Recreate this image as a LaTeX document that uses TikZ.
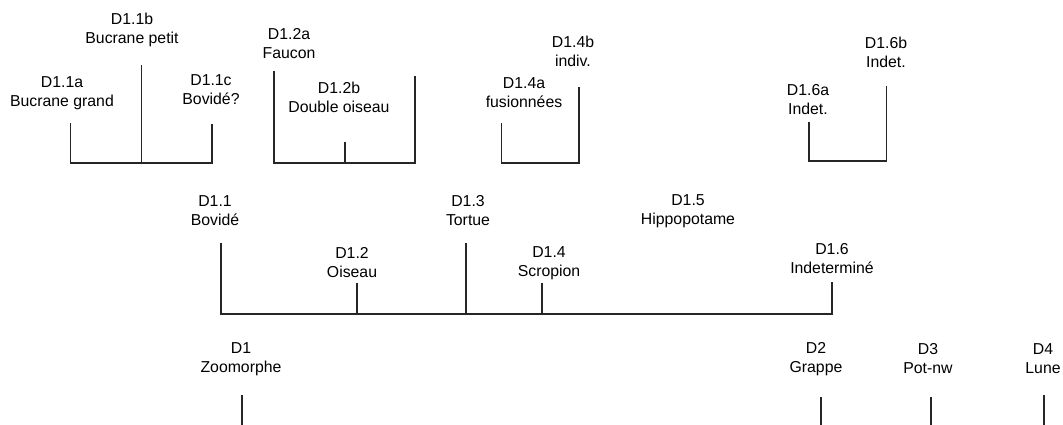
\documentclass[tikz,border=0pt]{standalone}
\usepackage{fontspec}
\setmainfont{Liberation Sans}
\usetikzlibrary{positioning}
\usetikzlibrary{calc}

\tikzset{lbl/.style={align=center, inner sep=0pt, font=\fontsize{9}{10.8}\selectfont},
  tree/.style={draw=black!85, line width=0.6pt}}

\begin{document}
\begin{tikzpicture}[x=0.02cm,y=-0.02cm]
\useasboundingbox (0,0) rectangle (1063,425);

\node[lbl] (d11a) at (62,93) {D1.1a\\Bucrane grand};
\node[lbl] (d11b) at (132,30) {D1.1b\\Bucrane petit};
\node[lbl] (d11c) at (211,90) {D1.1c\\Bovidé?};
\node[lbl] (d12a) at (289,44) {D1.2a\\Faucon};
\node[lbl] (d12b) at (339,97) {D1.2b\\Double oiseau};
\node[lbl] (d14a) at (524,93) {D1.4a\\fusionnées};
\node[lbl] (d14b) at (573,51) {D1.4b\\indiv.};
\node[lbl] (d16a) at (808,100) {D1.6a\\Indet.};
\node[lbl] (d16b) at (886,52) {D1.6b\\Indet.};

\node[lbl] (d11) at (215,211) {D1.1\\Bovidé};
\node[lbl] (d12) at (352,263) {D1.2\\Oiseau};
\node[lbl] (d13) at (468,211) {D1.3\\Tortue};
\node[lbl] (d14) at (549,263) {D1.4\\Scropion};
\node[lbl] (d15) at (688,211) {D1.5\\Hippopotame};
\node[lbl] (d16) at (832,259) {D1.6\\Indeterminé};

\node[lbl] (d1) at (241,359) {D1\\Zoomorphe};
\node[lbl] (d2) at (816,359) {D2\\Grappe};
\node[lbl] (d3) at (928,359) {D3\\Pot-nw};
\node[lbl] (d4) at (1043,359) {D4\\Lune};

\coordinate (p11a) at (70.7,123);
\coordinate (p11b) at (141.7,65);
\coordinate (p11c) at (212,124);
\coordinate (q11) at (0,163);
\draw[tree] (p11a) -- (p11a |- q11) -- (p11c |- q11) -- (p11c);
\draw[tree] (p11b) -- (p11b |- q11);

\coordinate (p12a) at (274,71);
\coordinate (p12m) at (345,142);
\coordinate (p12b) at (415,76);
\coordinate (q12) at (0,163);
\draw[tree] (p12a) -- (p12a |- q12) -- (p12b |- q12) -- (p12b);
\draw[tree] (p12m) -- (p12m |- q12);

\coordinate (p14a) at (501.7,123);
\coordinate (p14b) at (579,87);
\coordinate (q14) at (0,163);
\draw[tree] (p14a) -- (p14a |- q14) -- (p14b |- q14) -- (p14b);

\coordinate (p16a) at (809,122);
\coordinate (p16b) at (886.7,86);
\coordinate (q16) at (0,161);
\draw[tree] (p16a) -- (p16a |- q16) -- (p16b |- q16) -- (p16b);

\coordinate (p11) at (221,243);
\coordinate (p12) at (357,283);
\coordinate (p13) at (466,243);
\coordinate (p14) at (542,283);
\coordinate (p16) at (832,282);
\coordinate (q1) at (0,314);
\draw[tree] (p11) -- (p11 |- q1) -- (p16 |- q1) -- (p16);
\draw[tree] (p12) -- (p12 |- q1);
\draw[tree] (p13) -- (p13 |- q1);
\draw[tree] (p14) -- (p14 |- q1);

\coordinate (p1) at (242,395);
\coordinate (p2) at (821,397);
\coordinate (p3) at (931,397);
\coordinate (p4) at (1044,395);
\coordinate (q0) at (0,425);
\draw[tree] (p1) -- (p1 |- q0);
\draw[tree] (p2) -- (p2 |- q0);
\draw[tree] (p3) -- (p3 |- q0);
\draw[tree] (p4) -- (p4 |- q0);
\end{tikzpicture}
\end{document}
